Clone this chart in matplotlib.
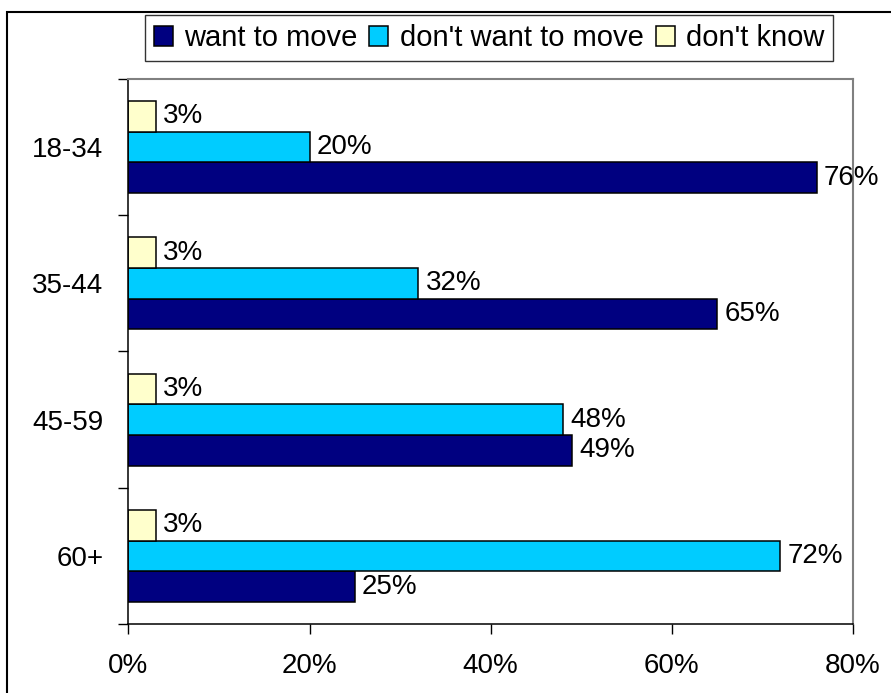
import numpy as np
import matplotlib.pyplot as plt
from matplotlib.patches import Rectangle

plt.rcParams['font.family'] = ['Liberation Sans', 'DejaVu Sans']

groups = ['18-34', '35-44', '45-59', '60+']
want_move = [76, 65, 49, 25]
dont_want = [20, 32, 48, 72]
dont_know = [3, 3, 3, 3]

series = [
    ('want to move', want_move, '#000080'),
    ("don't want to move", dont_want, '#00CCFF'),
    ("don't know", dont_know, '#FFFFCC'),
]

fig = plt.figure(figsize=(8.91, 6.93), dpi=100)
ax = fig.add_axes([0.1442, 0.0996, 0.9571 - 0.1442, 0.886 - 0.0996])

pos = np.arange(len(groups))
h = 0.225
offsets = [h, 0, -h]   # navy bottom, cyan middle, yellow top
fs = 20

for (name, vals, col), off in zip(series, offsets):
    bars = ax.barh(pos + off, vals, height=h, color=col, edgecolor='black',
                   linewidth=1.1, label=name, zorder=2)
    for b, v in zip(bars, vals):
        ax.text(v + 0.8, b.get_y() + h / 2, '%d%%' % v, va='center',
                ha='left', fontsize=fs, zorder=5, clip_on=False)

ax.set_xlim(0, 80)
ax.set_ylim(len(groups) - 0.5, -0.5)
ax.set_xticks([0, 20, 40, 60, 80])
ax.set_xticklabels(['0%', '20%', '40%', '60%', '80%'], fontsize=fs)
ax.tick_params(axis='x', length=7, width=1, pad=14)

# ticks between groups, labels at group centres
ax.set_yticks(np.arange(len(groups) + 1) - 0.5)
ax.set_yticklabels([])
ax.tick_params(axis='y', which='major', length=7, width=1)
ax.set_yticks(pos, minor=True)
ax.set_yticklabels(groups, minor=True, fontsize=fs)
ax.tick_params(axis='y', which='minor', length=0, pad=18)

for s in ('top', 'right'):
    ax.spines[s].set_color('#808080')
    ax.spines[s].set_linewidth(1.5)
for s in ('left', 'bottom'):
    ax.spines[s].set_color('black')
    ax.spines[s].set_linewidth(1.1)

leg = fig.legend(loc='center', bbox_to_anchor=(0.549, 0.945), ncol=3,
                 fontsize=21, frameon=True, fancybox=False, edgecolor='black',
                 handlelength=0.65, handleheight=0.65, handletextpad=0.4,
                 columnspacing=0.4, borderpad=0.3, borderaxespad=0)
leg.get_frame().set_linewidth(1.0)

# outer chart border
fig.patches.append(Rectangle((7 / 891, -0.1), 1.0, 1 - 12 / 693 + 0.1,
                             transform=fig.transFigure, fill=False,
                             edgecolor='black', linewidth=1.5))

fig.savefig('out.png', dpi=100)
